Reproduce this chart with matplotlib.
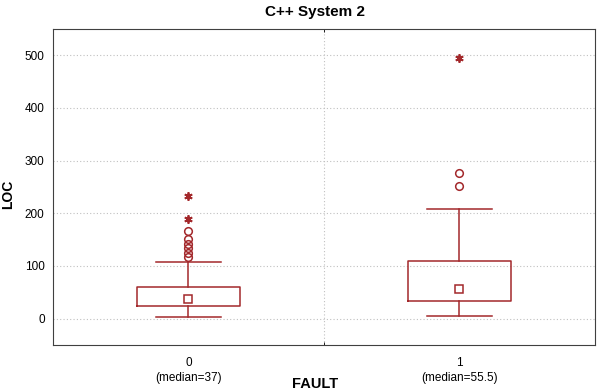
import numpy as np
import matplotlib.pyplot as plt

plt.rcParams['font.family'] = ['Liberation Sans', 'DejaVu Sans']

groups = ['0', '1']
medians = [37, 55.5]
q1 = [24, 34]
q3 = [60, 110]
whisker_low = [3, 6]
whisker_high = [108, 208]
outliers = [[117, 125, 134, 142, 151, 167], [252, 277]]
extremes = [[189, 233], [494]]

col = '#a3282b'

fig = plt.figure(figsize=(5.98, 3.91), dpi=100)
ax = fig.add_axes([53 / 598, 1 - 345 / 391, 542 / 598, 316 / 391])

stats = []
for i, g in enumerate(groups):
    stats.append(dict(med=medians[i], q1=q1[i], q3=q3[i],
                      whislo=whisker_low[i], whishi=whisker_high[i], fliers=[]))
pos = np.arange(len(groups))
ax.bxp(stats, positions=pos, widths=0.38, capwidths=0.24, showfliers=False,
       boxprops=dict(color=col, lw=1.1),
       whiskerprops=dict(color=col, lw=1.1),
       capprops=dict(color=col, lw=1.1),
       medianprops=dict(visible=False))
for i in pos:
    ax.plot(i, medians[i], 's', ms=5.5, mfc='white', mec=col, mew=1.1)
    ax.plot([i] * len(outliers[i]), outliers[i], 'o', ms=5.5, mfc='none', mec=col, mew=1.1)
    ax.plot([i] * len(extremes[i]), extremes[i], marker=(6, 2, 0), ls='none', ms=6, color=col, mew=1.3)

ax.set_xlim(-0.5, 1.5)
ax.set_ylim(-50, 550)
ax.set_yticks([0, 100, 200, 300, 400, 500])
ax.set_xticks(pos, [f'{g}\n(median={m:g})' for g, m in zip(groups, medians)])
for t in ax.get_xticklabels():
    t.set_linespacing(1.25)
ax.set_xticks([0.5], minor=True)
ax.tick_params(axis='x', which='major', length=0, labelsize=8.5, pad=9)
ax.tick_params(axis='x', which='minor', length=2, direction='in', top=True)
ax.tick_params(axis='y', length=0, labelsize=8.5, pad=6)
ax.grid(axis='y', which='major', ls=(0, (1, 2)), color='#c0c0c0', lw=0.8)
ax.grid(axis='x', which='minor', ls=(0, (1, 2)), color='#c0c0c0', lw=0.8)
ax.set_axisbelow(True)
for s in ax.spines.values():
    s.set_color('#404040')

fig.text(315 / 598, 0.97, 'C++ System 2', ha='center', va='center', fontsize=11, fontweight='bold')
fig.text(8.3 / 598, 0.503, 'LOC', ha='center', va='center', rotation=90, fontsize=10, fontweight='bold')
fig.text(315 / 598, 0.018, 'FAULT', ha='center', va='center', fontsize=10.5, fontweight='bold')

fig.savefig('out.png')
